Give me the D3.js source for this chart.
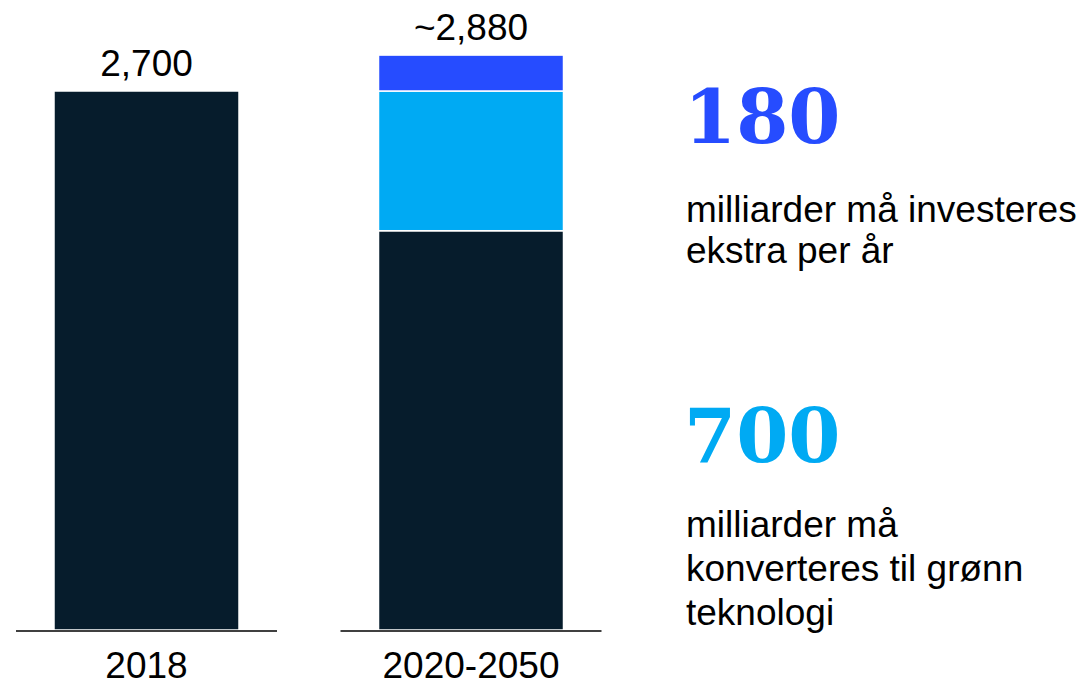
<!DOCTYPE html>
<html><head><meta charset="utf-8">
<script src="https://cdn.jsdelivr.net/npm/d3@7"></script>
<style>body{margin:0;background:#fff}svg{display:block}</style>
</head><body>
<svg id="c" width="1084" height="688"></svg>
<script>
const categories = ["2018", "2020-2050"];
const seriesNames = ["base", "konvertering", "ekstra"];
const baseValues = [2700, 2000];
const convertValues = [0, 700];
const extraValues = [0, 180];
const totalLabels = ["2,700", "~2,880"];
const colors = ["#061c2c", "#00aaf3", "#264cff"];
const callouts = [
  {big: "180", color: "#264cff", lines: ["milliarder må investeres", "ekstra per år"]},
  {big: "700", color: "#00aaf3", lines: ["milliarder må", "konverteres til grønn", "teknologi"]}
];

const svg = d3.select("#c");
const font = "'Liberation Sans', Arial, sans-serif";
const x = d3.scalePoint().domain(categories).range([-15.75, 633.25]).padding(0.5);
const y = d3.scaleLinear().domain([0, 2700]).range([630, 91]);
const barW = 185, lineW = 261;

const rows = categories.map((c, i) => ({cat: c, base: baseValues[i], konvertering: convertValues[i], ekstra: extraValues[i]}));
const stacked = d3.stack().keys(seriesNames)(rows);

svg.append("g").selectAll("g").data(stacked).join("g")
  .attr("fill", (d, i) => colors[i])
  .selectAll("rect").data(d => d.filter(p => p[1] > p[0])).join("rect")
  .attr("x", d => x(d.data.cat) - barW / 2)
  .attr("width", barW)
  .attr("y", d => y(d[1]))
  .attr("height", d => y(d[0]) - y(d[1]))
  .attr("stroke", "#fff").attr("stroke-width", 1.5);

// baseline segments
svg.append("g").selectAll("line").data(categories).join("line")
  .attr("x1", d => x(d) - lineW / 2).attr("x2", d => x(d) + lineW / 2)
  .attr("y1", y(0) + 1).attr("y2", y(0) + 1)
  .attr("stroke", "#404040").attr("stroke-width", 2);

// category labels
svg.append("g").selectAll("text").data(categories).join("text")
  .attr("x", d => x(d)).attr("y", 678)
  .attr("text-anchor", "middle").attr("font-family", font).attr("font-size", 37)
  .attr("fill", "#000").text(d => d);

// totals
svg.append("g").selectAll("text").data(rows).join("text")
  .attr("x", d => x(d.cat))
  .attr("y", d => y(d.base + d.konvertering + d.ekstra) - 15)
  .attr("text-anchor", "middle").attr("font-family", font).attr("font-size", 37)
  .attr("fill", "#000").text((d, i) => totalLabels[i]);

// callouts
const bigY = [143, 462];
const lineY0 = [222, 537];
const lh = [41, 44];
callouts.forEach((c, i) => {
  svg.append("text").attr("x", 684).attr("y", bigY[i])
    .attr("font-family", "'DejaVu Serif', serif").attr("font-weight", "bold")
    .attr("font-size", 75).attr("fill", c.color).text(c.big);
  c.lines.forEach((l, j) => {
    svg.append("text").attr("x", 686).attr("y", lineY0[i] + j * lh[i])
      .attr("font-family", font).attr("font-size", 37).attr("fill", "#000").text(l);
  });
});
</script>
</body></html>
